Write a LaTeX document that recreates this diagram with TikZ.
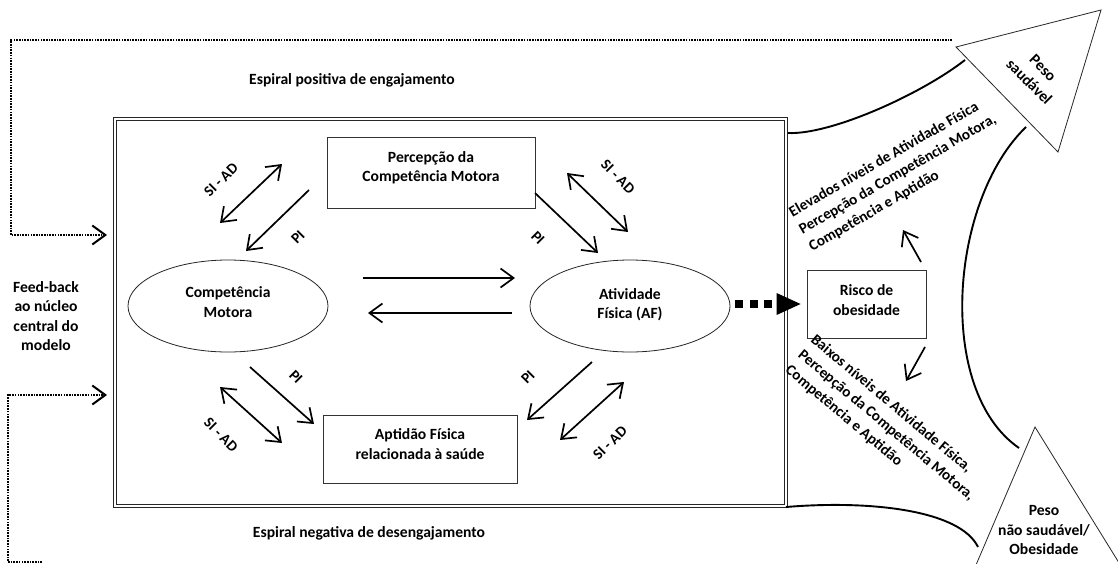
\documentclass[tikz,border=0pt]{standalone}
\usepackage{fontspec}
\setmainfont{Carlito}
\usetikzlibrary{arrows.meta,shapes.geometric}
\begin{document}
\begin{tikzpicture}[x=1pt,y=-1pt,
  txt/.style={font=\bfseries\fontsize{15.6}{19.5}\selectfont, align=center, inner sep=0pt},
  rtxt/.style={font=\bfseries\fontsize{15.2}{19.8}\selectfont, align=left, inner sep=0pt},
  lbl/.style={font=\bfseries\fontsize{15}{16}\selectfont, inner sep=0pt},
  boxnode/.style={draw=black!80, line width=0.8pt, rectangle, inner sep=0pt},
  ell/.style={draw=black!85, line width=0.8pt, ellipse, inner sep=0pt, minimum width=200pt, minimum height=92pt},
  arr/.style={line width=1.7pt, -{Straight Barb[length=13pt,width=19pt]}},
  darr/.style={line width=1.7pt, {Straight Barb[length=13pt,width=19pt]}-{Straight Barb[length=13pt,width=19pt]}},
  fb/.style={line width=2pt, dash pattern=on 1.6pt off 1.1pt, -{Straight Barb[length=13pt,width=19pt]}},
  swoosh/.style={line width=1.9pt},
  tri/.style={draw=black!85, line width=0.8pt, fill=white},
]
\useasboundingbox (0,0) rectangle (1118,563);
\clip (0,0) rectangle (1118,563);
\fill[white] (0,0) rectangle (1118,563);

% central box
\node[draw=black!85, double=white, double distance=1.4pt, line width=1.1pt,
      minimum width=671pt, minimum height=387pt, inner sep=0pt] (core) at (450.5,312.5) {};

% titles
\node[txt] (pos) at (352,80) {Espiral positiva de engajamento};
\node[txt] (neg) at (369,533) {Espiral negativa de desengajamento};
\node[txt] (feed) at (46,316) {Feed-back\\ao núcleo\\central do\\modelo};

% main nodes
\node[ell] (cm) at (228,306) {};
\node[txt] (cmt) at ([yshift=4pt]cm.center) {Competência\\Motora};
\node[ell] (af) at (630,306) {};
\node[txt] (aft) at ([yshift=1.5pt]af.center) {Atividade\\Física (AF)};
\node[boxnode, minimum width=208pt, minimum height=71pt] (pcm) at (431,172.5) {};
\node[txt] (pcmt) at ([yshift=5pt]pcm.center) {Percepção da\\Competência Motora};
\node[boxnode, minimum width=194pt, minimum height=68pt] (apt) at (420,449) {};
\node[txt] (aptt) at ([yshift=5pt]apt.center) {Aptidão Física\\relacionada à saúde};
\node[boxnode, minimum width=119pt, minimum height=68pt] (risco) at (866.5,304) {};
\node[txt] (riscot) at ([yshift=4pt]risco.center) {Risco de\\obesidade};

% horizontal arrows
\coordinate (h1a) at (363,278); \coordinate (h1b) at (515,278);
\coordinate (h2a) at (512,313); \coordinate (h2b) at (368,313);
\draw[arr] (h1a) -- (h1b);
\draw[arr] (h2a) -- (h2b);

% upper left
\coordinate (ul1a) at (220,223); \coordinate (ul1b) at (282,164);
\coordinate (ul2a) at (309,190); \coordinate (ul2b) at (246,251);
\draw[darr] (ul1a) -- (ul1b);
\draw[arr] (ul2a) -- (ul2b);
\node[lbl, rotate=45] (ulsi) at (221,180) {SI - AD};
\node[lbl, rotate=45] (ulpi) at (298,237) {PI};

% upper right
\coordinate (ur1a) at (535,193); \coordinate (ur1b) at (598,253);
\coordinate (ur2a) at (567,173); \coordinate (ur2b) at (628,232);
\draw[arr] (ur1a) -- (ur1b);
\draw[darr] (ur2a) -- (ur2b);
\node[lbl, rotate=-45] (ursi) at (618,177) {SI - AD};
\node[lbl, rotate=-45] (urpi) at (538,238) {PI};

% lower left
\coordinate (ll1a) at (250,367); \coordinate (ll1b) at (314,424);
\coordinate (ll2a) at (220,387); \coordinate (ll2b) at (282,443);
\draw[arr] (ll1a) -- (ll1b);
\draw[darr] (ll2a) -- (ll2b);
\node[lbl, rotate=-45] (llpi) at (296,377) {PI};
\node[lbl, rotate=-45] (llsi) at (221,435) {SI - AD};

% lower right
\coordinate (lr1a) at (592,362); \coordinate (lr1b) at (527,420);
\coordinate (lr2a) at (560,440); \coordinate (lr2b) at (624,382);
\draw[arr] (lr1a) -- (lr1b);
\draw[darr] (lr2a) -- (lr2b);
\node[lbl, rotate=45] (lrpi) at (528,377) {PI};
\node[lbl, rotate=45] (lrsi) at (610,443) {SI - AD};

% feedback loops
\coordinate (fstart) at (952,40);
\coordinate (fin1) at (107,235);
\coordinate (fin2) at (107,395);
\draw[fb] (fstart) -- (11,40) |- (fin1);
\draw[fb] (42,562) -- (8,562) |- (fin2);

% dotted arrow AF -> risco
\draw[line width=8pt, dash pattern=on 8pt off 6.5pt,
      -{Triangle[length=24pt,width=22pt,line width=0pt]},
      shorten <=5pt, shorten >=6pt] (af.east |- risco.west) -- (risco.west);

% small arrows from risco
\coordinate (upa) at (921,262); \coordinate (upb) at (903,230);
\coordinate (dna) at (925,347); \coordinate (dnb) at (906,381);
\draw[arr] (upa) -- (upb);
\draw[arr] (dna) -- (dnb);

% big curved arrows
\draw[swoosh] (788,133) .. controls (830,135) and (920,95) .. (965,60);
\draw[swoosh] (1026,127) .. controls (950,200) and (935,390) .. (1019,448);
\draw[swoosh] (786,507) .. controls (870,500) and (960,510) .. (978,547);
\draw[tri] (956,47) -- (1101,10) -- (1058,152) -- cycle;
\draw[tri] (1035,427) -- (1142,600) -- (961,600) -- cycle;

\node[txt, rotate=-45] (ps) at (1036,75) {Peso\\saudável};
\node[txt] (pns) at (1044,530) {Peso\\não saudável/\\Obesidade};

\node[rtxt, rotate=30, anchor=north west] (elev) at (787,208)
  {Elevados níveis de Atividade Física\\Percepção da Competência Motora,\\Competência e Aptidão};
\node[rtxt, rotate=-40, anchor=north west] (baix) at (817,333)
  {Baixos níveis de Atividade Física,\\Percepção da Competência Motora,\\Competência e Aptidão};
\end{tikzpicture}
\end{document}
